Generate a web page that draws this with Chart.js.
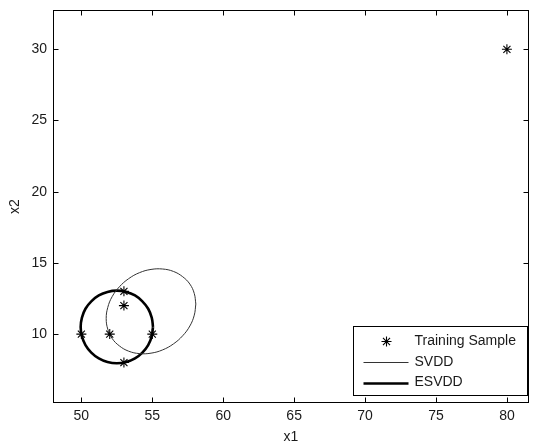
<!DOCTYPE html>
<html><head><meta charset="utf-8">
<script src="https://cdn.jsdelivr.net/npm/chart.js@4/dist/chart.umd.min.js"></script>
<style>html,body{margin:0;padding:0;background:#fff}canvas{display:block}</style>
</head><body>
<div style="width:535px;height:445px"><canvas id="c" width="535" height="445"></canvas></div>
<script>
// ---- data ----
const xTicks = [50, 55, 60, 65, 70, 75, 80];
const yTicks = [10, 15, 20, 25, 30];
const sampleX = [50, 52, 53, 53, 55, 53, 80];
const sampleY = [10, 10, 12, 13, 10, 8, 30];
// SVDD boundary (tilted ellipse), traced point by point
const svddX = [58.07,57.96,57.65,57.14,56.49,55.73,54.91,54.09,53.33,52.68,52.17,51.86,51.75,51.86,52.17,52.68,53.33,54.09,54.91,55.73,56.49,57.14,57.65,57.96,58.07];
const svddY = [12.11,12.85,13.51,14.03,14.40,14.57,14.54,14.31,13.89,13.32,12.63,11.87,11.09,10.35,9.69,9.17,8.80,8.63,8.66,8.89,9.31,9.88,10.57,11.33,12.11];
// ESVDD boundary (circle), traced point by point
const esvddX = [55.05,54.96,54.71,54.30,53.78,53.16,52.50,51.84,51.23,50.70,50.29,50.04,49.95,50.04,50.29,50.70,51.23,51.84,52.50,53.16,53.78,54.30,54.71,54.96,55.05];
const esvddY = [10.50,11.16,11.78,12.30,12.71,12.96,13.05,12.96,12.71,12.30,11.78,11.16,10.50,9.84,9.23,8.70,8.29,8.04,7.95,8.04,8.29,8.70,9.23,9.84,10.50];
const seriesLabels = ['Training Sample', 'SVDD', 'ESVDD'];
const xTitle = 'x1';
const yTitle = 'x2';

const toXY = (xs, ys) => xs.map((x, i) => ({x: x, y: ys[i]}));
const FAMILY = '"Liberation Sans", Arial, sans-serif';
const TXT = '#1a1a1a';

const framePlugin = {
  id: 'frame',
  afterDraw(chart) {
    const {ctx, chartArea: a, scales} = chart;
    const sx = scales.x, sy = scales.y;
    ctx.save();
    ctx.strokeStyle = '#000';
    ctx.lineWidth = 1;
    const L = Math.round(a.left) + 0.5, R = Math.round(a.right) - 0.5;
    const T = Math.round(a.top) + 0.5, B = Math.round(a.bottom) - 0.5;
    ctx.strokeRect(L, T, R - L, B - T);
    const tl = 5;
    ctx.beginPath();
    sx.ticks.forEach(t => {
      const p = Math.round(sx.getPixelForValue(t.value)) + 0.5;
      ctx.moveTo(p, B); ctx.lineTo(p, B - tl);
      ctx.moveTo(p, T); ctx.lineTo(p, T + tl);
    });
    sy.ticks.forEach(t => {
      const p = Math.round(sy.getPixelForValue(t.value)) + 0.5;
      ctx.moveTo(L, p); ctx.lineTo(L + tl, p);
      ctx.moveTo(R, p); ctx.lineTo(R - tl, p);
    });
    ctx.stroke();

    // legend box (south-east, inside the axes)
    const bx = Math.round(a.right) - 175.5, by = Math.round(a.bottom) - 76.5;
    const bw = 174, bh = 69;
    ctx.fillStyle = '#fff';
    ctx.fillRect(bx, by, bw, bh);
    ctx.strokeRect(bx, by, bw, bh);
    const rows = [by + 14.5, by + 35.5, by + 56];
    ctx.font = '14px ' + FAMILY;
    ctx.textBaseline = 'middle';
    ctx.textAlign = 'left';
    chart.data.datasets.forEach((ds, i) => {
      const yy = Math.round(rows[i]) + 0.5;
      if (ds.showLine) {
        ctx.strokeStyle = ds.borderColor;
        ctx.lineWidth = ds.borderWidth;
        ctx.beginPath();
        ctx.moveTo(bx + 10, yy); ctx.lineTo(bx + 55, yy);
        ctx.stroke();
      } else {
        ctx.strokeStyle = ds.pointBorderColor;
        ctx.lineWidth = ds.pointBorderWidth;
        Chart.helpers.drawPoint(ctx, {pointStyle: ds.pointStyle, radius: ds.pointRadius, borderWidth: ds.pointBorderWidth}, bx + 33, yy);
      }
      ctx.fillStyle = TXT;
      ctx.fillText(ds.label, bx + 61, rows[i]);
    });
    ctx.restore();
  }
};

const zeroPad = s => { s.paddingTop = 0; s.paddingBottom = 0; s.paddingLeft = 0; s.paddingRight = 0; };

new Chart(document.getElementById('c'), {
  type: 'scatter',
  data: {
    datasets: [
      {
        label: seriesLabels[0],
        data: toXY(sampleX, sampleY),
        showLine: false,
        pointStyle: 'star',
        pointRadius: 5,
        pointBorderWidth: 1.1,
        pointBorderColor: '#000',
        pointBackgroundColor: '#000',
        borderColor: '#000'
      },
      {
        label: seriesLabels[1],
        data: toXY(svddX, svddY),
        showLine: true,
        pointRadius: 0,
        borderColor: '#333',
        borderWidth: 1,
        tension: 0.4,
        fill: false
      },
      {
        label: seriesLabels[2],
        data: toXY(esvddX, esvddY),
        showLine: true,
        pointRadius: 0,
        borderColor: '#000',
        borderWidth: 2.6,
        tension: 0.4,
        fill: false
      }
    ]
  },
  options: {
    responsive: false,
    animation: false,
    layout: {padding: {top: 10, right: 0, left: 0, bottom: 0}},
    plugins: {legend: {display: false}, tooltip: {enabled: false}},
    scales: {
      x: {
        type: 'linear',
        min: 48, max: 81.55,
        afterBuildTicks: s => { s.ticks = xTicks.map(v => ({value: v})); },
        afterFit: s => { s.height = 42; zeroPad(s); },
        grid: {display: false, drawTicks: false},
        border: {display: false},
        ticks: {font: {size: 14, family: FAMILY}, color: TXT, padding: 5, maxRotation: 0, autoSkip: false},
        title: {display: true, text: xTitle, font: {size: 14, family: FAMILY}, color: TXT, padding: {top: 0, bottom: -1}}
      },
      y: {
        type: 'linear',
        min: 5.16, max: 32.76,
        afterBuildTicks: s => { s.ticks = yTicks.map(v => ({value: v})); },
        afterFit: s => { s.width = 53; zeroPad(s); },
        grid: {display: false, drawTicks: false},
        border: {display: false},
        ticks: {font: {size: 14, family: FAMILY}, color: TXT, padding: 6, autoSkip: false},
        title: {display: true, text: yTitle, font: {size: 14, family: FAMILY}, color: TXT, padding: {top: 7, bottom: 0}}
      }
    }
  },
  plugins: [framePlugin]
});
</script>
</body></html>
